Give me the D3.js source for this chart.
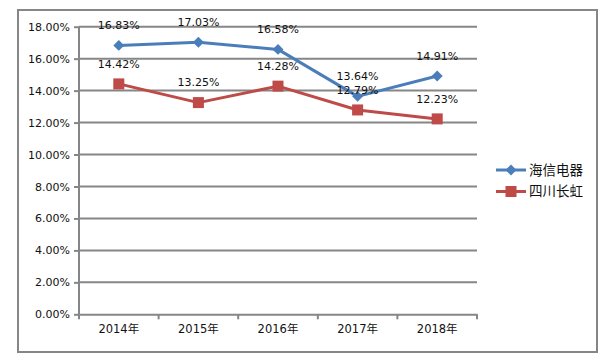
<!DOCTYPE html>
<html><head><meta charset="utf-8">
<script src="https://cdn.jsdelivr.net/npm/d3@7"></script>
<style>body{margin:0;background:#fff}svg{display:block}</style>
</head><body>
<svg id="c" width="607" height="357"></svg>
<script>
const categories = ["2014年","2015年","2016年","2017年","2018年"];
const hisense = [16.83, 17.03, 16.58, 13.64, 14.91];
const changhong = [14.42, 13.25, 14.28, 12.79, 12.23];
const seriesNames = ["海信电器","四川长虹"];
const yTicks = [0,2,4,6,8,10,12,14,16,18];

const svg = d3.select("#c");
const font = "'DejaVu Sans', 'Noto Sans CJK SC', sans-serif";
const grid = "#868686";
const colors = ["#4A7EBB", "#BE4B48"];

svg.append("rect").attr("x",18).attr("y",10).attr("width",579).attr("height",342)
  .attr("fill","#fff").attr("stroke",grid).attr("stroke-width",2);

const x = d3.scaleBand().domain(categories).range([79,477]);
const y = d3.scaleLinear().domain([0,18]).range([314.3,26.7]);

// gridlines
svg.append("g").selectAll("line").data(yTicks.filter(d=>d>0)).join("line")
  .attr("x1",79).attr("x2",477).attr("y1",d=>y(d)).attr("y2",d=>y(d))
  .attr("stroke",grid).attr("stroke-width",2);

// y axis
const ya = svg.append("g").attr("transform","translate(79,0)")
  .call(d3.axisLeft(y).tickValues(yTicks).tickSize(5).tickPadding(4).tickFormat(d=>d.toFixed(2)+"%"));
ya.select(".domain").attr("stroke",grid).attr("stroke-width",2).attr("d","M0,"+y(0)+"V"+y(18));
ya.selectAll(".tick line").attr("stroke",grid).attr("stroke-width",2);
ya.selectAll("text").attr("font-family",font).attr("font-size","11px").attr("fill","#111");

// x axis
const xa = svg.append("g").attr("transform","translate(0,"+y(0)+")")
  .call(d3.axisBottom(x).tickSize(0).tickPadding(11));
xa.select(".domain").attr("stroke",grid).attr("stroke-width",2);
xa.selectAll("text").attr("font-family",font).attr("font-size","11.5px").attr("fill","#111");
const bounds = categories.map(c=>x(c)).concat([x.range()[1]]);
xa.selectAll(".btick").data(bounds).join("line").attr("class","btick")
  .attr("x1",d=>d).attr("x2",d=>d).attr("y1",0).attr("y2",5)
  .attr("stroke",grid).attr("stroke-width",2);

const cx = c => x(c) + x.bandwidth()/2;
const line = d3.line().x((d,i)=>cx(categories[i])).y(d=>y(d));
const diamond = d3.symbol().type(d3.symbolDiamond).size(70);

[hisense, changhong].forEach((vals, si) => {
  const g = svg.append("g");
  g.append("path").datum(vals).attr("d",line).attr("fill","none")
    .attr("stroke",colors[si]).attr("stroke-width",3).attr("stroke-linejoin","round");
  if (si===0) {
    g.selectAll("path.m").data(vals).join("path").attr("class","m")
      .attr("d",d3.symbol().type(d3.symbolSquare).size(60))
      .attr("transform",(d,i)=>`translate(${cx(categories[i])},${y(d)}) rotate(45)`)
      .attr("fill",colors[si]);
  } else {
    g.selectAll("rect.m").data(vals).join("rect").attr("class","m")
      .attr("x",(d,i)=>cx(categories[i])-5.5).attr("y",d=>y(d)-5.5)
      .attr("width",11).attr("height",11).attr("fill",colors[si]);
  }
  g.selectAll("text").data(vals).join("text")
    .attr("x",(d,i)=>cx(categories[i])).attr("y",d=>y(d)-20)
    .attr("dy","0.35em").attr("text-anchor","middle")
    .attr("font-family",font).attr("font-size","11px").attr("fill","#111")
    .text(d=>d.toFixed(2)+"%");
});

// legend
const lg = svg.append("g");
seriesNames.forEach((n,i)=>{
  const ly = [170, 191.5][i];
  lg.append("line").attr("x1",496).attr("x2",526).attr("y1",ly).attr("y2",ly)
    .attr("stroke",colors[i]).attr("stroke-width",3);
  if (i===0) lg.append("path").attr("d",d3.symbol().type(d3.symbolSquare).size(60))
    .attr("transform",`translate(511,${ly}) rotate(45)`).attr("fill",colors[i]);
  else lg.append("rect").attr("x",505.5).attr("y",ly-5.5).attr("width",11).attr("height",11).attr("fill",colors[i]);
  lg.append("text").attr("x",529).attr("y",ly).attr("dy","0.36em")
    .attr("font-family",font).attr("font-size","13.5px").attr("fill","#111").text(n);
});
</script>
</body></html>
